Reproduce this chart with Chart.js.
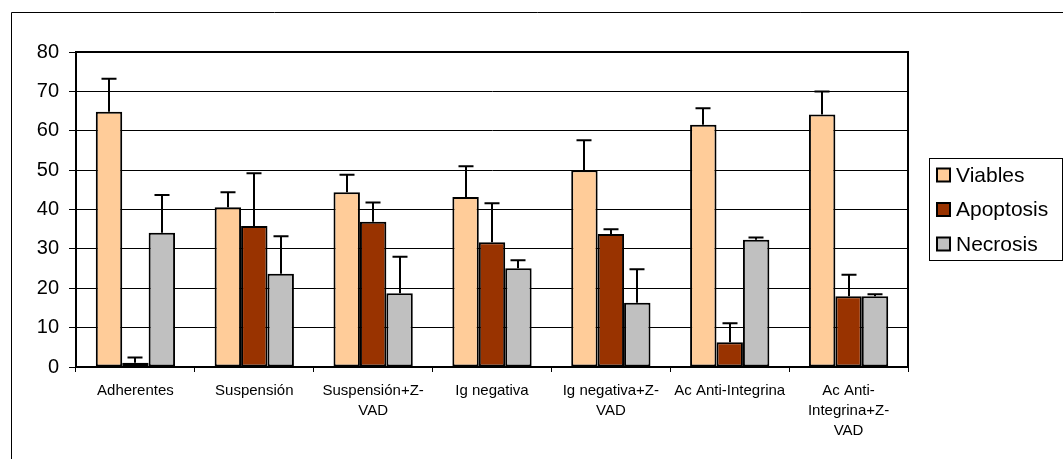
<!DOCTYPE html>
<html>
<head>
<meta charset="utf-8">
<script src="https://cdn.jsdelivr.net/npm/chart.js@4/dist/chart.umd.min.js"></script>
<style>
  html, body { margin: 0; padding: 0; background: #fff; }
  canvas { display: block; }
</style>
</head>
<body>
<canvas id="chart" width="1063" height="459"></canvas>
<script>
// Categories (multi-line labels as arrays)
const categories = [
  'Adherentes',
  'Suspensión',
  ['Suspensión+Z-', 'VAD'],
  'Ig negativa',
  ['Ig negativa+Z-', 'VAD'],
  'Ac Anti-Integrina',
  ['Ac Anti-', 'Integrina+Z-', 'VAD']
];

// Mean percentages per group
const viables   = [64.8, 40.6, 44.4, 43.2, 50.0, 61.5, 64.1];
const apoptosis = [1.1, 35.8, 36.9, 31.7, 33.8, 6.3, 18.0];
const necrosis  = [34.1, 23.7, 18.7, 25.1, 16.3, 32.3, 18.0];

// Upper error amounts (standard deviation)
const viablesErr   = [8.4, 3.8, 4.4, 7.8, 7.6, 4.2, 5.9];
const apoptosisErr = [1.3, 13.4, 4.9, 9.9, 1.2, 4.8, 5.4];
const necrosisErr  = [9.6, 9.5, 9.3, 2.0, 8.5, 0.6, 0.5];

// Y-axis ticks
const yTicks = [0, 10, 20, 30, 40, 50, 60, 70, 80];

const FONT = "'Liberation Sans', Arial, sans-serif";

// Draws upward error bars with a cap on top of each bar
const errorBars = {
  id: 'errorBars',
  afterDatasetsDraw(chart) {
    const ctx = chart.ctx;
    const y = chart.scales.y;
    ctx.save();
    ctx.strokeStyle = '#000';
    ctx.lineWidth = 2;
    chart.data.datasets.forEach((ds, di) => {
      const meta = chart.getDatasetMeta(di);
      meta.data.forEach((bar, i) => {
        const top = y.getPixelForValue(ds.data[i] + ds.errors[i]);
        const x = Math.round(bar.x);
        ctx.beginPath();
        ctx.moveTo(x, bar.y);
        ctx.lineTo(x, top);
        ctx.moveTo(x - 7.5, top);
        ctx.lineTo(x + 7.5, top);
        ctx.stroke();
      });
    });
    ctx.restore();
  }
};

// Plot frame, outer frame and boxed legend
const frame = {
  id: 'frame',
  afterDraw(chart) {
    const ctx = chart.ctx;
    const a = chart.chartArea;
    ctx.save();
    ctx.strokeStyle = '#000';
    ctx.lineWidth = 2;
    ctx.strokeRect(a.left, a.top, a.right - a.left, a.bottom - a.top);

    // outer frame
    ctx.lineWidth = 1;
    ctx.beginPath();
    ctx.moveTo(11.5, chart.height);
    ctx.lineTo(11.5, 12.5);
    ctx.lineTo(chart.width, 12.5);
    ctx.stroke();

    // legend
    const lx = 929.5, ly = 158.5, lw = 133, lh = 102;
    ctx.strokeRect(lx, ly, lw, lh);
    ctx.font = '21px ' + FONT;
    ctx.textBaseline = 'middle';
    ctx.textAlign = 'left';
    chart.data.datasets.forEach((ds, i) => {
      const cy = 175 + i * 34.5;
      ctx.fillStyle = ds.backgroundColor;
      ctx.fillRect(937, cy - 6.5, 13, 13);
      ctx.lineWidth = 2;
      ctx.strokeRect(937, cy - 6.5, 13, 13);
      ctx.fillStyle = '#000';
      ctx.fillText(ds.label, 956, cy + 1);
    });
    ctx.restore();
  }
};

const barStyle = { borderColor: '#000', borderWidth: 2, borderSkipped: false };

new Chart(document.getElementById('chart'), {
  type: 'bar',
  data: {
    labels: categories,
    datasets: [
      { label: 'Viables', data: viables, errors: viablesErr, backgroundColor: '#FFCC99', ...barStyle },
      { label: 'Apoptosis', data: apoptosis, errors: apoptosisErr, backgroundColor: '#993300', ...barStyle },
      { label: 'Necrosis', data: necrosis, errors: necrosisErr, backgroundColor: '#C0C0C0', ...barStyle }
    ]
  },
  options: {
    responsive: false,
    animation: false,
    devicePixelRatio: 1,
    layout: { padding: { left: 0, top: 52, right: 155, bottom: 0 } },
    datasets: { bar: { categoryPercentage: 0.667, barPercentage: 1.0 } },
    plugins: {
      legend: { display: false },
      tooltip: { enabled: false }
    },
    scales: {
      x: {
        afterFit(s) { s.height = 92; },
        grid: { drawOnChartArea: false, drawTicks: true, tickLength: 5, color: '#000', offset: true },
        border: { display: true, color: '#000', width: 2 },
        ticks: {
          autoSkip: false, maxRotation: 0, minRotation: 0, padding: 9,
          color: '#000',
          font: { family: FONT, size: 15, lineHeight: 1.33 }
        }
      },
      y: {
        min: 0, max: 80,
        afterFit(s) { s.width = 76; },
        afterBuildTicks(s) { s.ticks = yTicks.map(v => ({ value: v })); },
        grid: { color: '#000', lineWidth: 1, tickLength: 7 },
        border: { display: true, color: '#000', width: 2 },
        ticks: {
          padding: 10, color: '#000',
          font: { family: FONT, size: 20 }
        }
      }
    }
  },
  plugins: [errorBars, frame]
});
</script>
</body>
</html>
